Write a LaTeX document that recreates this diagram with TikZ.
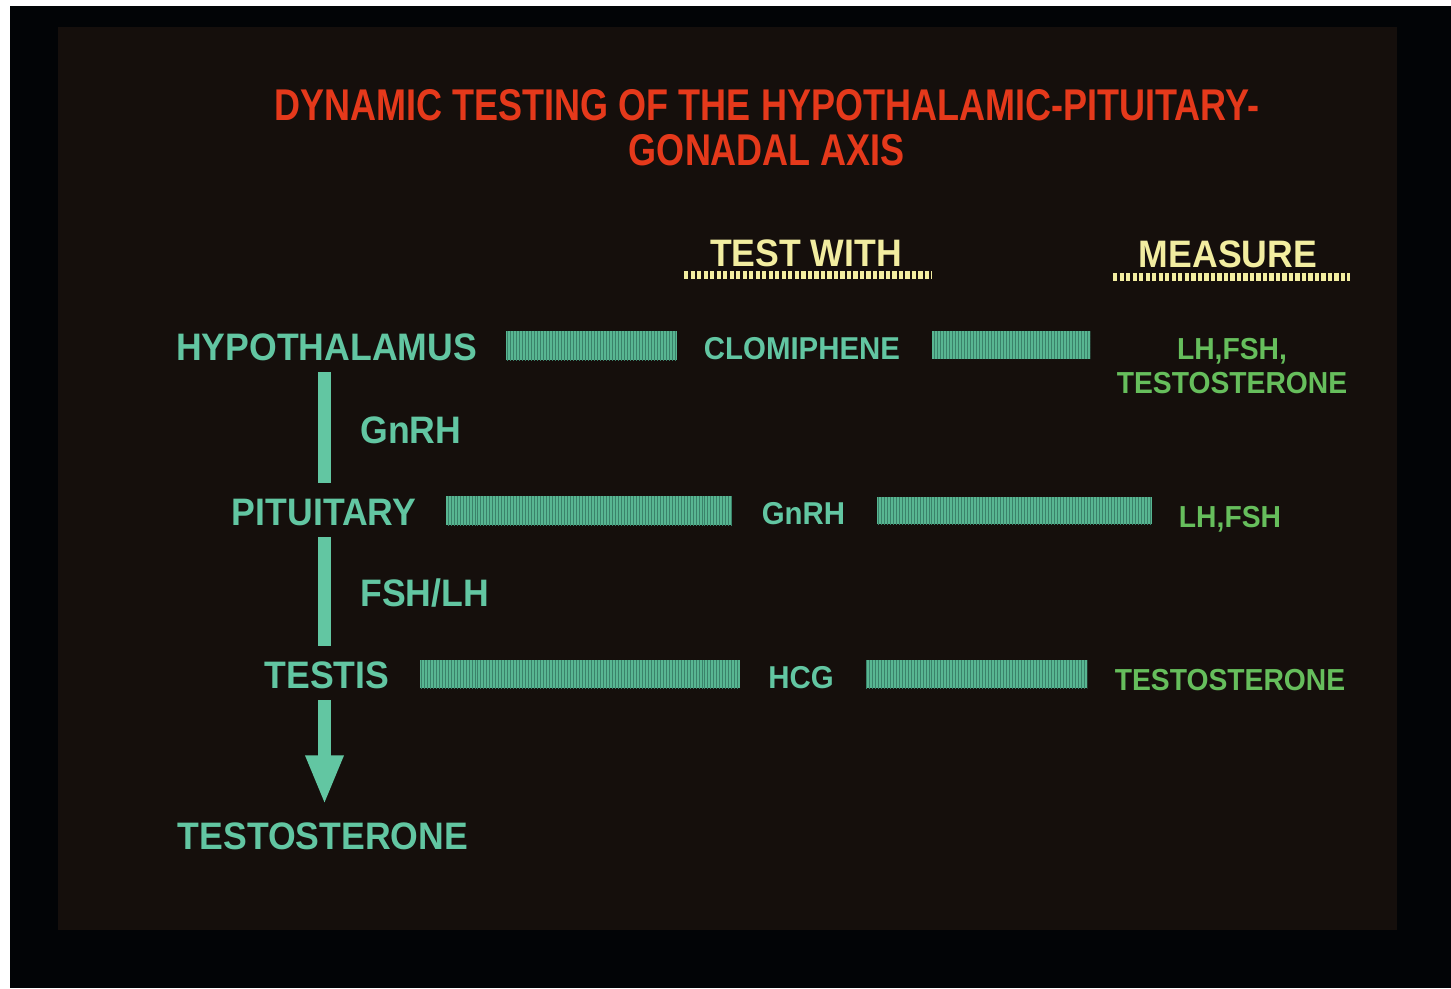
\documentclass[tikz,border=0pt]{standalone}
\usepackage{fontspec}
\usetikzlibrary{calc,arrows.meta,patterns.meta}
\newfontfamily\slidefont{Liberation Sans}[FakeStretch=0.93]
\newfontfamily\slidetitlefont{Liberation Sans}[FakeStretch=0.81]
\definecolor{outerblack}{HTML}{020406}
\definecolor{slidepanel}{HTML}{150F0C}
\definecolor{slidered}{HTML}{E5391B}
\definecolor{slideyellow}{HTML}{F2EDA0}
\definecolor{slideteal}{HTML}{62C6A2}
\definecolor{slidegreen}{HTML}{66BE5C}
\definecolor{barfill}{HTML}{58B692}
\definecolor{barline}{HTML}{3A826A}
\tikzset{
  titletext/.style={font=\slidetitlefont\bfseries\fontsize{25.3pt}{26pt}\selectfont,text=slidered,inner sep=0pt,anchor=base},
  heading/.style={font=\slidefont\bfseries\fontsize{21.8pt}{24pt}\selectfont,text=slideyellow,inner sep=0pt,anchor=base},
  organ/.style={font=\slidefont\bfseries\fontsize{21.8pt}{24pt}\selectfont,text=slideteal,inner sep=0pt,anchor=base},
  agent/.style={font=\slidefont\bfseries\fontsize{18pt}{20pt}\selectfont,text=slideteal,inner sep=0pt,anchor=base},
  measured/.style={font=\slidefont\bfseries\fontsize{17.3pt}{19.3pt}\selectfont,text=slidegreen,inner sep=0pt,anchor=base},
  hbar/.style={fill=barfill,postaction={pattern={Lines[angle=90,distance=1.7pt,line width=0.45pt]},pattern color=barline}},
  vlink/.style={draw=slideteal,line width=7.4pt},
  dotline/.style={draw=slideyellow,line width=5.1pt,dash pattern=on 2.55pt off 1.15pt}
}
\begin{document}
\begin{tikzpicture}[x=0.02cm,y=-0.02cm]
    \useasboundingbox (0,0) rectangle (1451,988);
    % slide frame
    \fill[white] (0,0) rectangle (1451,988);
    \fill[outerblack] (10,6) rectangle (1451,988);
    \fill[slidepanel] (58,27) rectangle (1397,930);
    % title and column headings
    \node[titletext] (title1) at (767,120) {DYNAMIC TESTING OF THE HYPOTHALAMIC-PITUITARY-};
    \node[titletext] (title2) at (767,165) {GONADAL AXIS};
    \node[heading] (testw) at (806,266) {TEST WITH};
    \node[heading] (meas) at (1228,267) {MEASURE};
    \draw[dotline] ($(testw.base)+(-122,9)$) -- ($(testw.base)+(126,9)$);
    \draw[dotline] ($(meas.base)+(-115,10)$) -- ($(meas.base)+(122,10)$);
    % the axis
    \node[organ] (hyp) at (326.5,360) {HYPOTHALAMUS};
    \node[organ] (pit) at (324,525) {PITUITARY};
    \node[organ] (testis) at (327,688) {TESTIS};
    \node[organ] (testo) at (323,849) {TESTOSTERONE};
    \node[organ,anchor=base west] (gnrh) at (360,443) {GnRH};
    \node[organ,anchor=base west] (fshlh) at (360,606) {FSH/LH};
    \coordinate (spine) at (324.5,0);
    \draw[vlink] ($(spine |- hyp.base)+(0,12)$) -- ($(spine |- pit.base)+(0,-42)$);
    \draw[vlink] ($(spine |- pit.base)+(0,12)$) -- ($(spine |- testis.base)+(0,-42)$);
    \draw[vlink,-{Triangle[width=19.8pt,length=28.3pt]}] ($(spine |- testis.base)+(0,12)$) -- ($(spine |- testo.base)+(0,-44)$);
    % tests and measurements
    \node[agent] (clom) at (802,359) {CLOMIPHENE};
    \node[agent] (gnrhtest) at (803.5,524) {GnRH};
    \node[agent] (hcg) at (801,688) {HCG};
    \node[measured,anchor=north,align=center] (mhyp) at (1232,338) {LH,FSH,\\TESTOSTERONE};
    \node[measured] (mpit) at (1230,527) {LH,FSH};
    \node[measured] (mtestis) at (1230,690) {TESTOSTERONE};
    \path[hbar] ($(hyp.base east)+(29,0)$) rectangle ($(clom.base west)+(-27,-28)$);
    \path[hbar] ($(clom.base east)+(32,0)$) rectangle ($(mhyp.west |- clom.base)+(-26,-28)$);
    \path[hbar] ($(pit.base east)+(30,0)$) rectangle ($(gnrhtest.base west)+(-29,-28)$);
    \path[hbar] ($(gnrhtest.base east)+(31,0)$) rectangle ($(mpit.base west |- pit.base)+(-27,-28)$);
    \path[hbar] ($(testis.base east)+(30,0)$) rectangle ($(hcg.base west)+(-28,-28)$);
    \path[hbar] ($(hcg.base east)+(32,0)$) rectangle ($(mtestis.base west |- testis.base)+(-27,-28)$);
\end{tikzpicture}
\end{document}
